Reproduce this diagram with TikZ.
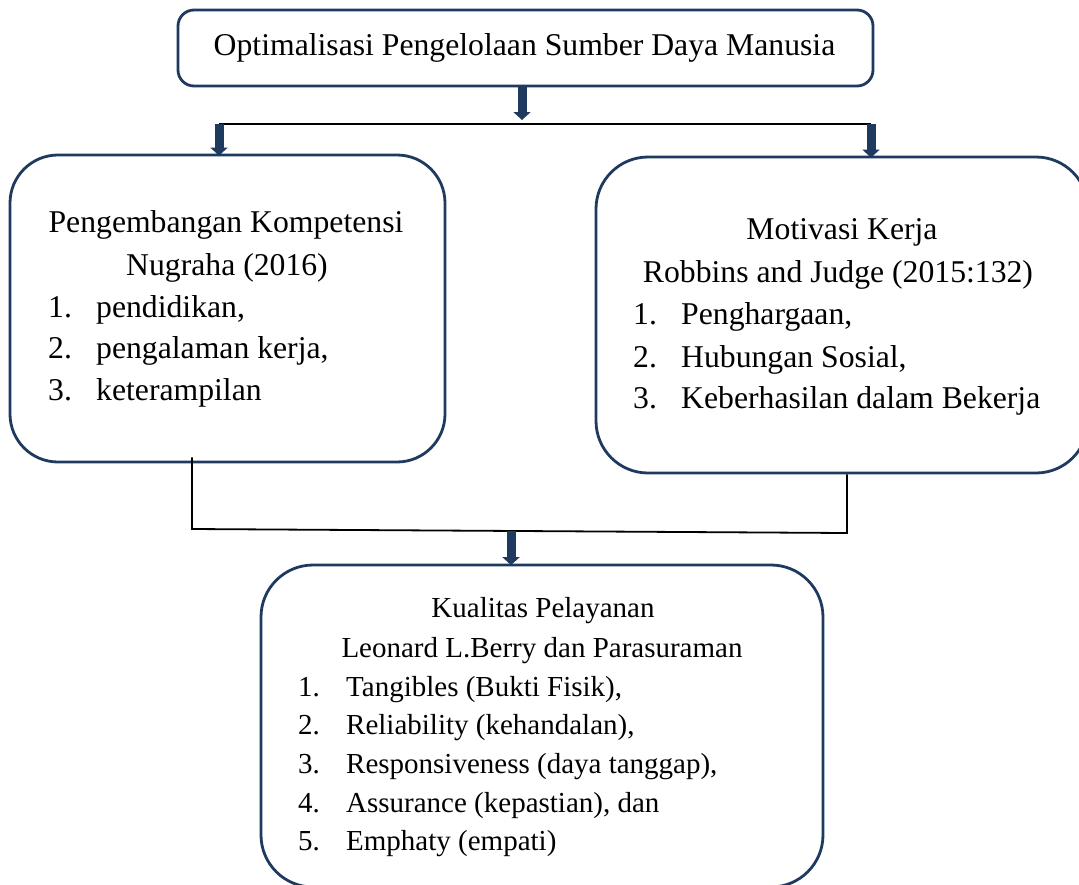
\documentclass[tikz,border=0pt]{standalone}
\usepackage{fontspec}
\setmainfont{Liberation Serif}
\usetikzlibrary{arrows.meta}
\definecolor{navy}{HTML}{1F3A5F}
\tikzset{
  box/.style={draw=navy, line width=2.8pt, fill=white, inner sep=0pt},
  bigarrow/.style={draw=navy, line width=9pt, -{Triangle[width=17pt,length=8pt]}},
  link/.style={draw=black, line width=1.8pt},
  txt/.style={inner sep=0pt, anchor=base, font=\fontsize{31.7}{38}\selectfont},
  txtl/.style={inner sep=0pt, anchor=base west, font=\fontsize{31.7}{38}\selectfont},
  stxt/.style={inner sep=0pt, anchor=base, font=\fontsize{29}{35}\selectfont},
  stxtl/.style={inner sep=0pt, anchor=base west, font=\fontsize{29}{35}\selectfont},
}
\begin{document}
\begin{tikzpicture}[x=1pt,y=-1pt]
\useasboundingbox (0,0) rectangle (1079,884);
% boxes
\node[box, rounded corners=16pt, minimum width=695pt, minimum height=76pt] (top) at (525.5,48) {};
\node[box, rounded corners=48pt, minimum width=435pt, minimum height=307pt] (left) at (227.5,308.5) {};
\node[box, rounded corners=52pt, minimum width=492pt, minimum height=316pt] (right) at (842,315) {};
\node[box, rounded corners=52pt, minimum width=562pt, minimum height=322pt] (bottom) at (542,726) {};
% top text
\node[txt] (t0) at (524.5,55) {Optimalisasi Pengelolaan Sumber Daya Manusia};
% left text
\node[txt] (l0) at (226,232) {Pengembangan Kompetensi};
\node[txt] (l1) at (227,275) {Nugraha (2016)};
\node[txtl] (l2n) at (48,317) {1.};
\node[txtl] (l2) at (96,317) {pendidikan,};
\node[txtl] (l3n) at (48,358) {2.};
\node[txtl] (l3) at (96,358) {pengalaman kerja,};
\node[txtl] (l4n) at (48,400) {3.};
\node[txtl] (l4) at (96,400) {keterampilan};
% right text
\node[txt] (r0) at (842,239) {Motivasi Kerja};
\node[txt] (r1) at (838,282) {Robbins and Judge (2015:132)};
\node[txtl] (r2n) at (633,324) {1.};
\node[txtl] (r2) at (681,324) {Penghargaan,};
\node[txtl] (r3n) at (633,367) {2.};
\node[txtl] (r3) at (681,367) {Hubungan Sosial,};
\node[txtl] (r4n) at (633,408) {3.};
\node[txtl] (r4) at (681,408) {Keberhasilan dalam Bekerja};
% bottom text
\node[stxt] (b0) at (543,617) {Kualitas Pelayanan};
\node[stxt] (b1) at (542,657) {Leonard L.Berry dan Parasuraman};
\node[stxtl] (b2n) at (298,696) {1.};
\node[stxtl] (b2) at (346,696) {Tangibles (Bukti Fisik),};
\node[stxtl] (b3n) at (298,734) {2.};
\node[stxtl] (b3) at (346,734) {Reliability (kehandalan),};
\node[stxtl] (b4n) at (298,773) {3.};
\node[stxtl] (b4) at (346,773) {Responsiveness (daya tanggap),};
\node[stxtl] (b5n) at (298,812) {4.};
\node[stxtl] (b5) at (346,812) {Assurance (kepastian), dan};
\node[stxtl] (b6n) at (298,850) {5.};
\node[stxtl] (b6) at (346,850) {Emphaty (empati)};
% connectors
\coordinate (a1) at (522,120);
\coordinate (hl) at (219,124);
\coordinate (hr) at (871,124);
\coordinate (bl) at (192,529);
\coordinate (br) at (847,533);
\coordinate (bm) at (511,531);
\draw[bigarrow] (top.south -| a1) -- (a1);
\draw[link] (hl) -- (hr);
\draw[bigarrow] (hl) -- ([yshift=-2pt]left.north -| hl);
\draw[bigarrow] (hr) -- ([yshift=-2pt]right.north -| hr);
\draw[link] ([yshift=6pt]left.south -| bl) -- (bl) -- (br) -- (right.south -| br);
\draw[bigarrow] (bm) -- ([yshift=-1.5pt]bottom.north -| bm);
\end{tikzpicture}
\end{document}
